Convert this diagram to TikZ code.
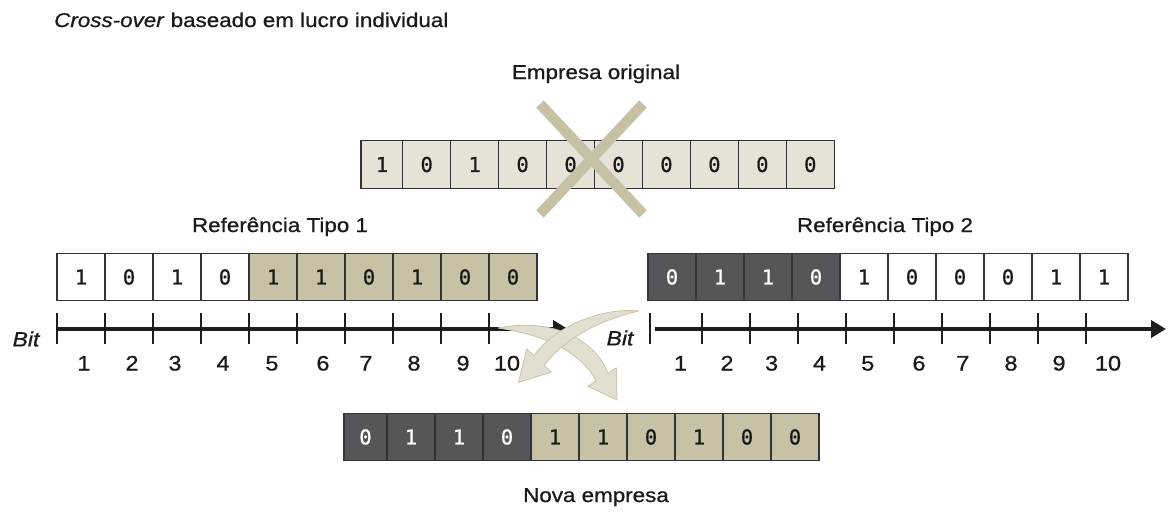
\documentclass[tikz,border=0pt]{standalone}
\usepackage{fontspec}
\setmainfont{Liberation Sans}[FakeStretch=1.12,FakeBold=0.8]
\newfontfamily\digitfont{DejaVu Sans Mono}[FakeBold=0.8]
\usetikzlibrary{arrows.meta}
\definecolor{cellline}{HTML}{333333}
\definecolor{lightc}{HTML}{E6E2D5}
\definecolor{tanc}{HTML}{C7C2A6}
\definecolor{darkc}{HTML}{55565A}
\definecolor{crossc}{HTML}{C6C1A4}
\definecolor{arrowfill}{HTML}{E3DFD0}
\definecolor{arrowline}{HTML}{C9C3AA}
\definecolor{axisc}{HTML}{1E1E1E}
\definecolor{textc}{HTML}{1A1A1A}
\tikzset{
  cell/.style={draw=cellline, line width=1.3pt, inner sep=0pt, minimum height=47.5pt,
    font=\digitfont\fontsize{20.5}{24}\selectfont, text=textc},
  lcell/.style={cell, fill=lightc},
  wcell/.style={cell, fill=white},
  tcell/.style={cell, fill=tanc},
  dcell/.style={cell, fill=darkc, text=white},
  lbl/.style={font=\fontsize{20}{24}\selectfont, text=textc, inner sep=0pt},
  numlbl/.style={font=\fontsize{21}{24}\selectfont, text=textc, inner sep=0pt, anchor=base},
  bitlbl/.style={font=\fontsize{20.5}{24}\selectfont\itshape, text=textc, inner sep=0pt},
  axisline/.style={draw=axisc, line width=4.5pt, -{Triangle[length=15pt,width=17pt]}},
  tick/.style={draw=axisc, line width=1.4pt},
  swoosh/.style={fill=arrowfill, draw=arrowline, line width=0.8pt, line join=round},
  xmark/.style={draw=crossc, line width=10.5pt},
}
\begin{document}
\begin{tikzpicture}[x=1pt,y=-1pt]
\useasboundingbox (0,0) rectangle (1169,515);

% title
\node[lbl, anchor=base west] (title) at (54,27) {\textit{Cross-over} baseado em lucro individual};

% top row: Empresa original
\node[lbl, anchor=base] (orig) at (596,79) {Empresa original};
\node[lcell, minimum width=42pt] (o1) at (382,164.5) {1};
\foreach \v [count=\k from 2] in {0,1,0,0,0,0,0,0,0} {
  \node[lcell, minimum width=48pt] (o\k) at ({402.7+47.95*(\k-2)+24},164.5) {\v};
}
\draw[xmark] (540,104) -- (643,214);
\draw[xmark] (643,104) -- (540,214);

% reference labels
\node[lbl, anchor=base] (ref1) at (280,232) {Referência Tipo 1};
\node[lbl, anchor=base] (ref2) at (885,232) {Referência Tipo 2};

% left row
\foreach \v [count=\k] in {1,0,1,0} {
  \node[wcell, minimum width=48pt] (a\k) at ({57+48*(\k-1)+24},277) {\v};
}
\foreach \v [count=\j from 5] in {1,1,0,1,0,0} {
  \node[tcell, minimum width=48pt] (a\j) at ({57+48*(\j-1)+24},277) {\v};
}
% right row
\foreach \v [count=\k] in {0,1,1,0} {
  \node[dcell, minimum width=48pt] (b\k) at ({648+48*(\k-1)+24},277) {\v};
}
\foreach \v [count=\j from 5] in {1,0,0,0,1,1} {
  \node[wcell, minimum width=48pt] (b\j) at ({648+48*(\j-1)+24},277) {\v};
}

% left axis
\coordinate (la0) at (57,329);
\coordinate (la1) at (568,329);
\draw[axisline] (la0) -- (la1);
\foreach \k in {0,...,9} {
  \draw[tick] ({57+48*\k},313) -- ({57+48*\k},344);
}
\foreach \x [count=\n] in {84,132,175,223,272,323,366,414,463,507} {
  \node[numlbl] (ln\n) at (\x,370.5) {\n};
}
\node[bitlbl] (bitl) at (26,339) {Bit};

% right axis
\coordinate (ra0) at (655,329);
\coordinate (ra1) at (1166,329);
\draw[axisline] (ra0) -- (ra1);
\draw[tick] (650,313) -- (650,344);
\foreach \k in {1,...,9} {
  \draw[tick] ({654+48*\k},313) -- ({654+48*\k},344);
}
\foreach \x [count=\n] in {680.5,727,771.6,819.5,867.8,919,962.8,1011,1059,1108} {
  \node[numlbl] (rn\n) at (\x,370.5) {\n};
}
\node[bitlbl] (bitr) at (620,338) {Bit};

% crossing arrows
\path[swoosh] (498,328) .. controls (552,317) and (596,340) .. (607.9,373.2)
  -- (616.3,367.8) -- (617,400) -- (587.7,386.2) -- (596.1,380.8)
  .. controls (580,350) and (540,334) .. (498,328) -- cycle;
\path[swoosh] (639,311) .. controls (600,307) and (553,328) .. (533.9,355.7)
  -- (526.6,348.9) -- (518.5,382.4) -- (551.4,372.1) -- (544.1,365.3)
  .. controls (565,338) and (600,320) .. (639,311) -- cycle;

% bottom row: Nova empresa
\node[dcell, minimum width=43pt] (n1) at (365.5,437) {0};
\foreach \v [count=\k from 2] in {1,1,0} {
  \node[dcell, minimum width=48pt] (n\k) at ({387+48*(\k-2)+24},437) {\v};
}
\foreach \v [count=\j from 5] in {1,1,0,1,0,0} {
  \node[tcell, minimum width=48pt] (n\j) at ({387+48*(\j-2)+24},437) {\v};
}
\node[lbl, anchor=base] (nova) at (596,502) {Nova empresa};
\end{tikzpicture}
\end{document}
